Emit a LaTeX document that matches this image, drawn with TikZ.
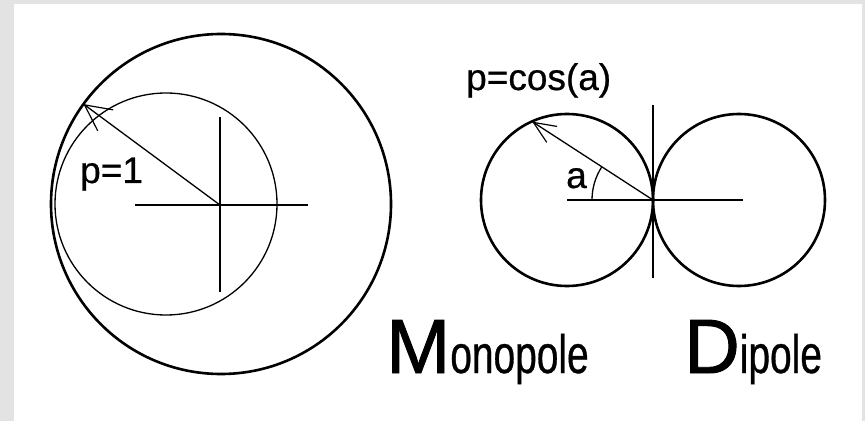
\documentclass[tikz,border=0pt]{standalone}
\usepackage{fontspec}
\setmainfont{Liberation Sans}
\newfontfamily\narrowf[FakeStretch=0.72,FakeBold=0.6]{Liberation Sans}
\newfontfamily\capf[FakeBold=1.2]{Liberation Sans}
\newfontfamily\lblf[FakeBold=0.6]{Liberation Sans}
\usetikzlibrary{arrows.meta,calc}
\definecolor{framegray}{HTML}{E3E3E3}
\tikzset{
  thickc/.style={line width=2.6pt},
  thinc/.style={line width=1.3pt},
  axis/.style={line width=2.1pt},
  radarrow/.style={line width=1.3pt,-{Straight Barb[length=26pt,width=26pt,line width=1.2pt]}},
  radarrowb/.style={line width=1.3pt,-{Straight Barb[length=22pt,width=19pt,line width=1.2pt]}},
  lbl/.style={inner sep=0pt,anchor=base west,font=\lblf\fontsize{37}{40}\selectfont},
  big/.style={inner sep=0pt,anchor=base west}
}
\begin{document}
\begin{tikzpicture}[x=1pt,y=1pt]
\useasboundingbox (0,0) rectangle (865,421);
\fill[framegray] (0,0) rectangle (865,421);
\fill[white] (14,0) rectangle (862,417);
% Monopole
\coordinate (mc) at (220,216);
\draw[thickc] (221,217) circle[radius=170];
\draw[thinc] (166,217) circle[radius=111];
\coordinate (mhl) at (135,216);
\coordinate (mhr) at (308,216);
\coordinate (mvt) at (220,304);
\coordinate (mvb) at (220,129);
\draw[axis] (mhl) -- (mhr);
\draw[axis] (mvt) -- (mvb);
\coordinate (mtip) at ($(221,217)+(144:170)$);
\draw[radarrow] (mc) -- (mtip);
\node[lbl] (p1) at (80,238) {p=1};
% Dipole
\draw[thickc] (567,221) circle[radius=86];
\draw[thickc] (739,221) circle[radius=86];
\coordinate (dc) at (653,221);
\coordinate (dvt) at (653,316);
\coordinate (dvb) at (653,143);
\coordinate (dhl) at (567,221);
\coordinate (dhr) at (743,221);
\draw[axis] (dvt) -- (dvb);
\draw[axis] (dhl) -- (dhr);
\coordinate (dtip) at (532.2,299.4);
\draw[radarrowb] (dc) -- (dtip);
\draw[thinc] (592,221) arc[start angle=180,end angle=147,radius=61];
\node[lbl] (pcos) at (466,331) {p=cos(a)};
\node[lbl] (alab) at (566,233) {a};
% Titles
\node[big] (mono) at (386,48) {\capf\fontsize{77}{80}\selectfont M\narrowf\fontsize{54}{60}\selectfont onopole};
\node[big] (dip) at (684,48) {\capf\fontsize{77}{80}\selectfont D\narrowf\fontsize{54}{60}\selectfont ipole};
\end{tikzpicture}
\end{document}
